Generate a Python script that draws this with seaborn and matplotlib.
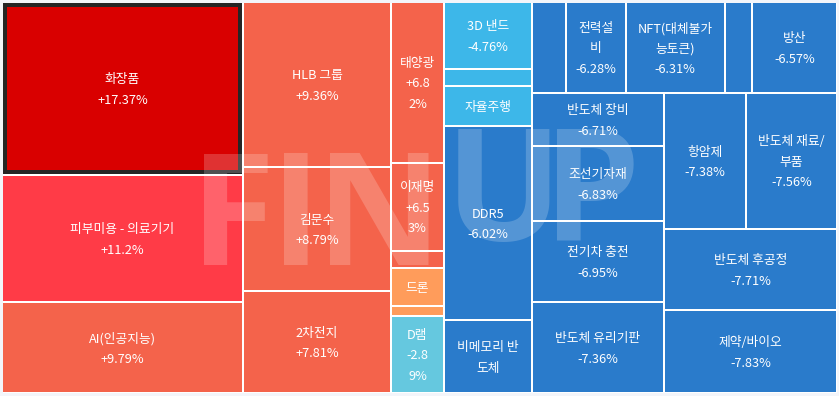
import matplotlib
matplotlib.use("Agg")
import matplotlib.pyplot as plt
from matplotlib.patches import Rectangle
from matplotlib.font_manager import FontProperties
import seaborn as sns

# ---------------- data ----------------
names = ["화장품", "피부미용 - 의료기기", "AI(인공지능)",
         "HLB 그룹", "김문수", "2차전지",
         "태양광", "이재명", "", "드론", "", "D램",
         "3D 낸드", "", "자율주행", "DDR5", "비메모리 반도체",
         "", "전력설비", "NFT(대체불가능토큰)", "", "방산",
         "반도체 장비", "조선기자재", "전기차 충전", "반도체 유리기판",
         "항암제", "반도체 재료/부품", "반도체 후공정", "제약/바이오"]
changes = [17.37, 11.2, 9.79,
           9.36, 8.79, 7.81,
           6.82, 6.53, 6.2, 3.5, 3.2, -2.89,
           -4.76, -4.8, -4.9, -6.02, -6.1,
           -6.2, -6.28, -6.31, -6.4, -6.57,
           -6.71, -6.83, -6.95, -7.36,
           -7.38, -7.56, -7.71, -7.83]
sizes = [417, 306, 219,
         244, 184, 151,
         85, 47, 9, 20, 5, 41,
         59, 15, 35, 171, 64,
         31, 54, 90, 25, 77,
         70, 99, 107, 120,
         112, 124, 140, 144]
# grouping of the treemap (indices into the lists above)
tree = [[0, 1, 2], [3, 4, 5], [6, 7, 8, 9, 10, 11], [12, 13, 14, 15, 16],
        [[17, 18, 19, 20, 21], [[22, 23, 24, 25], [[26, 27], 28, 29]]]]

# ---------------- style ----------------
sns.set_theme(style="white")
plt.rcParams['font.family'] = ['Noto Sans CJK KR', 'DejaVu Sans']

bucket_colors = sns.color_palette(["#d90000", "#ff3b47", "#f4634b", "#ff9c5b",
                                   "#65c8df", "#3db7e9", "#2a7bcb"])


def color_for(v):
    if v >= 15:
        return bucket_colors[0]
    if v >= 10:
        return bucket_colors[1]
    if v >= 5:
        return bucket_colors[2]
    if v >= 0:
        return bucket_colors[3]
    if v > -3:
        return bucket_colors[4]
    if v > -5:
        return bucket_colors[5]
    return bucket_colors[6]


FIG_W, FIG_H = 839, 396
fig = plt.figure(figsize=(FIG_W / 100, FIG_H / 100), dpi=100)
fig.patch.set_facecolor('#f3f5fa')
ax = fig.add_axes([0, 0, 1, 1])
ax.set_xlim(0, FIG_W)
ax.set_ylim(FIG_H, 0)
ax.axis('off')


def total(node):
    return sizes[node] if isinstance(node, int) else sum(total(c) for c in node)


cells = {}


def layout(node, x, y, w, h, depth):
    if isinstance(node, int):
        cells[node] = (x, y, w, h)
        return
    s = total(node)
    off = 0.0
    for c in node:
        frac = total(c) / s
        if depth % 2 == 0:
            layout(c, x + off, y, w * frac, h, depth + 1)
            off += w * frac
        else:
            layout(c, x, y + off, w, h * frac, depth + 1)
            off += h * frac


X0, Y0, W0, H0 = 2, 2, 835, 391
layout(tree, X0, Y0, W0, H0, 0)

ax.add_patch(Rectangle((X0 + 0.5, Y0 + 0.5), W0 - 1, H0 - 1, fc='white', ec='none', zorder=0))

GAP = 1.0
for i, (x, y, w, h) in cells.items():
    ax.add_patch(Rectangle((x + GAP, y + GAP), w - 2 * GAP, h - 2 * GAP,
                           fc=color_for(changes[i]), ec='none', zorder=1))

# highlight the top mover
top = max(range(len(changes)), key=lambda k: changes[k])
x, y, w, h = cells[top]
ax.add_patch(Rectangle((x + GAP + 2, y + GAP + 2), w - 2 * GAP - 4, h - 2 * GAP - 4,
                       fill=False, ec='#252525', lw=4 * 0.72, zorder=2))

# watermark
wm_font = FontProperties(family='Open Sans', weight='bold', size=112)
for ch, lx, base in [("F", 190, 265), ("I", 270, 265), ("N", 316, 265),
                     ("U", 445, 240), ("P", 543, 240)]:
    ax.text(lx, base, ch, fontproperties=wm_font, color='white', alpha=0.2,
            ha='left', va='baseline', zorder=5)

# labels
FS = 9.2
fp = FontProperties(family=['Noto Sans CJK KR', 'DejaVu Sans'], size=FS)
renderer = fig.canvas.get_renderer()


def tw(s):
    w, _, _ = renderer.get_text_width_height_descent(s, fp, ismath=False)
    return w


def units_of(s):
    # a percent sign never starts a line: keep it with the preceding digit
    out = []
    for ch in s:
        if ch == '%' and out:
            out[-1] += ch
        else:
            out.append(ch)
    return out


def wrap(s, avail):
    lines, cur = [], ''
    for u in units_of(s):
        trial = cur + u
        if cur.strip() and tw(trial.rstrip()) > avail:
            lines.append(cur.rstrip())
            cur = '' if u == ' ' else u
        else:
            cur = trial
    if cur.strip():
        lines.append(cur.rstrip())
    return lines


HP = 7.5
LS = 20.5
for i, (x, y, w, h) in cells.items():
    if not names[i]:
        continue
    avail = w - 2 * HP
    nl = wrap(names[i], avail)
    pl = wrap(f"{changes[i]:+g}%", avail)
    lines = nl + pl if (len(nl) + len(pl)) * 22 + 8 <= h else nl
    if len(lines) * 22 + 8 > h:
        lines = lines[:max(0, int((h - 8) // 22))]
    cy = y + h / 2
    n = len(lines)
    for k, line in enumerate(lines):
        ax.text(x + w / 2, cy + (k - (n - 1) / 2) * LS, line, ha='center',
                va='center_baseline', color='white', fontproperties=fp, zorder=6)

fig.savefig("out.png", dpi=100, facecolor=fig.get_facecolor())
